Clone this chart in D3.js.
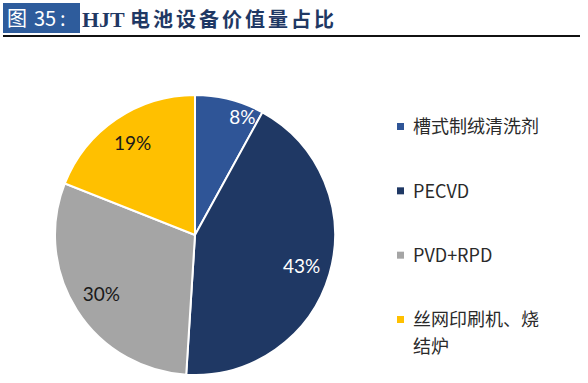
<!DOCTYPE html>
<html><head><meta charset="utf-8">
<script src="https://cdn.jsdelivr.net/npm/d3@7"></script>
<style>body{margin:0;background:#fff}svg{display:block}</style>
</head><body>
<svg id="c" width="588" height="383"></svg>
<script>
const categories = ["槽式制绒清洗剂", "PECVD", "PVD+RPD", "丝网印刷机、烧结炉"];
const legendLines = [["槽式制绒清洗剂"], ["PECVD"], ["PVD+RPD"], ["丝网印刷机、烧", "结炉"]];
const values = [8, 43, 30, 19];
const labels = ["8%", "43%", "30%", "19%"];
const colors = ["#2F5597", "#1F3864", "#A5A5A5", "#FFC000"];
const labelColors = ["#ffffff", "#ffffff", "#1a1a1a", "#1a1a1a"];

const svg = d3.select("#c");
// Title
svg.append("rect").attr("x", 3).attr("y", 3).attr("width", 77).attr("height", 30).attr("fill", "#2E5C9C");
const tl = svg.append("text").attr("y", 26).attr("fill", "#fff")
  .attr("font-family", "Noto Sans CJK SC").attr("font-size", 20);
tl.append("tspan").attr("x", 7).text("图");
tl.append("tspan").attr("x", 34).text("35");
tl.append("tspan").attr("x", 60).text(":");
const t = svg.append("text").attr("x", 82).attr("y", 27).attr("fill", "#1F3864").attr("font-weight", "bold");
t.append("tspan").attr("font-family", "Liberation Serif").attr("font-size", 22).text("HJT ");
t.append("tspan").attr("font-family", "Noto Sans CJK SC").attr("font-size", 20).attr("letter-spacing", 3).text("电池设备价值量占比");
svg.append("line").attr("x1", 3).attr("x2", 580).attr("y1", 36).attr("y2", 36).attr("stroke", "#111").attr("stroke-width", 2.2);

// Pie
const cx = 195, cy = 235, R = 140;
const pie = d3.pie().sort(null).value(d => d)(values);
const arc = d3.arc().innerRadius(0).outerRadius(R);
const g = svg.append("g").attr("transform", `translate(${cx},${cy})`);
g.selectAll("path").data(pie).join("path")
  .attr("d", arc).attr("fill", (d, i) => colors[i])
  .attr("stroke", "#fff").attr("stroke-width", 2);

g.selectAll("text.lbl").data(pie).join("text").attr("class", "lbl")
  .attr("transform", d => {
    const small = (d.endAngle - d.startAngle) < 0.1 * 2 * Math.PI;
    const a = small ? d.startAngle + 0.76 * (d.endAngle - d.startAngle) : (d.startAngle + d.endAngle) / 2;
    const r = small ? 127 : 111;
    return `translate(${Math.sin(a) * r},${-Math.cos(a) * r})`;
  })
  .attr("text-anchor", "middle").attr("dy", "0.36em")
  .attr("font-family", "Lato, 'Open Sans', sans-serif").attr("font-size", 19)
  .attr("fill", (d, i) => labelColors[i]).text((d, i) => labels[i]);

// Legend
const ly = d3.scalePoint().domain(categories).range([127, 320]);
const lg = svg.append("g");
categories.forEach((c, i) => {
  const y = ly(c);
  lg.append("rect").attr("x", 397).attr("y", y - 4).attr("width", 7).attr("height", 7).attr("fill", colors[i]);
  legendLines[i].forEach((ln, j) => {
    lg.append("text").attr("x", 413).attr("y", y + j * 27).attr("dy", "0.36em")
      .attr("font-family", "Noto Sans CJK SC").attr("font-size", 18).attr("fill", "#2a2a2a").text(ln);
  });
});
</script>
</body></html>
